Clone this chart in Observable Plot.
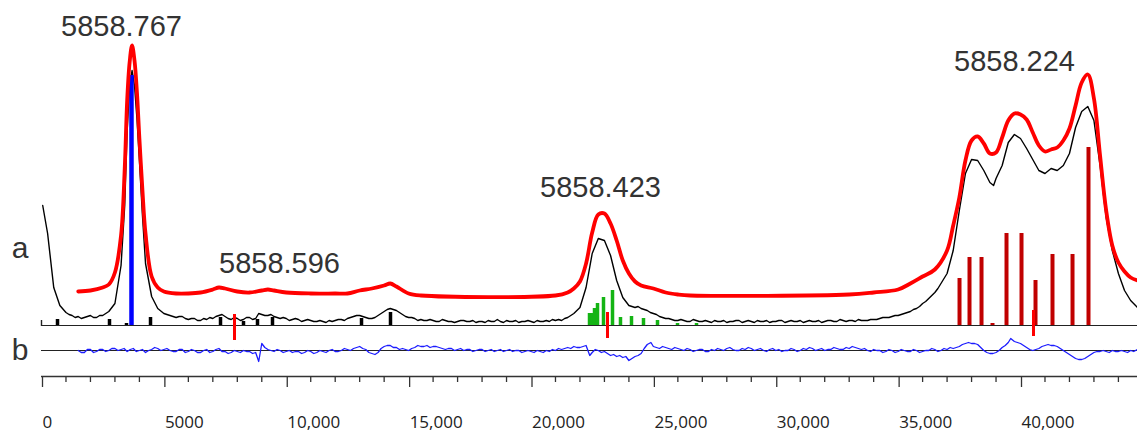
<!DOCTYPE html>
<html><head><meta charset="utf-8">
<script src="https://cdn.jsdelivr.net/npm/d3@7"></script>
<script src="https://cdn.jsdelivr.net/npm/@observablehq/plot@0.6"></script>
<style>body{margin:0;background:#fff;} #chart svg{display:block;}</style>
</head><body><div id="chart"></div>
<script>
// ---------- data ----------
// measured spectrum (black), [x, intensity]
const spectrum = [[50,120],[250,92],[500,38],[750,20],[1000,13],[1125,11],[1250,10],[1375,8],[1500,9],[1625,7],[1750,8],[1875,9],[2000,10],[2125,8],[2250,8],[2375,10],[2500,10],[2625,12],[2750,14],[3000,22],[3250,60],[3400,120],[3500,195],[3600,240],[3700,255],[3800,240],[3900,207],[4000,165],[4125,110],[4250,62],[4500,29],[4750,17],[5000,12],[5125,11],[5250,10],[5375,9],[5500,8],[5625,9],[5750,9],[5875,7],[6000,6],[6125,7],[6250,7],[6375,5],[6500,5],[6625,7],[6750,6],[6875,8],[7000,7],[7125,9],[7250,10],[7375,11],[7500,9],[7625,7],[7750,6],[7875,8],[8000,7],[8125,5],[8250,6],[8375,8],[8500,8],[8625,6],[8750,7],[8875,12],[9000,11],[9125,10],[9250,10],[9375,11],[9500,9],[9625,8],[9750,7],[9875,8],[10000,7],[10125,5],[10250,6],[10375,7],[10500,6],[10625,4],[10750,5],[10875,6],[11000,5],[11125,4],[11250,4],[11375,5],[11500,4],[11625,3],[11750,5],[11875,4],[12000,5],[12125,6],[12250,6],[12375,5],[12500,7],[12625,8],[12750,9],[12875,10],[13000,10],[13125,9],[13250,8],[13375,7],[13500,7],[13625,8],[13750,10],[13875,12],[14000,14],[14125,16],[14250,17],[14375,16],[14500,15],[14625,13],[14750,11],[14875,9],[15000,8],[15125,8],[15250,7],[15375,5],[15500,6],[15625,5],[15750,5],[15875,6],[16000,5],[16125,4],[16250,4],[16375,6],[16500,5],[16625,4],[16750,4],[16875,3],[17000,4],[17125,5],[17250,5],[17375,4],[17500,4],[17625,5],[17750,3],[17875,4],[18000,4],[18125,3],[18250,5],[18375,4],[18500,4],[18625,6],[18750,4],[18875,3],[19000,5],[19125,4],[19250,4],[19375,5],[19500,3],[19625,4],[19750,4],[19875,5],[20000,4],[20125,3],[20250,5],[20375,4],[20500,4],[20625,5],[20750,4],[20875,6],[21000,5],[21125,6],[21250,5],[21375,7],[21500,8],[21750,12],[22000,18],[22250,38],[22500,72],[22750,87],[23000,85],[23250,70],[23500,45],[23750,28],[24000,20],[24125,19],[24250,18],[24375,19],[24500,17],[24625,16],[24750,15],[24875,13],[25000,12],[25125,11],[25250,9],[25375,8],[25500,7],[25625,7],[25750,6],[25875,5],[26000,5],[26125,6],[26250,5],[26375,4],[26500,4],[26625,6],[26750,5],[26875,4],[27000,4],[27125,5],[27250,4],[27375,3],[27500,5],[27625,4],[27750,4],[27875,5],[28000,3],[28125,4],[28250,4],[28375,5],[28500,5],[28625,3],[28750,4],[28875,5],[29000,4],[29125,3],[29250,5],[29375,4],[29500,4],[29625,5],[29750,3],[29875,4],[30000,4],[30125,5],[30250,5],[30375,3],[30500,4],[30625,5],[30750,4],[30875,4],[31000,5],[31125,3],[31250,4],[31375,5],[31500,4],[31625,4],[31750,5],[31875,3],[32000,4],[32125,5],[32250,5],[32375,4],[32500,4],[32625,6],[32750,5],[32875,4],[33000,5],[33125,5],[33250,4],[33375,6],[33500,5],[33625,5],[33750,5],[33875,6],[34000,6],[34125,6],[34250,7],[34375,8],[34500,8],[34625,8],[34750,9],[34875,10],[35000,10],[35125,11],[35250,12],[35375,13],[35500,14],[35625,16],[35750,17],[35875,19],[36000,22],[36125,24],[36250,27],[36375,30],[36500,33],[36625,37],[36750,42],[37000,52],[37250,75],[37500,115],[37750,152],[38000,166],[38250,165],[38500,155],[38750,143],[38900,140],[39000,147],[39250,160],[39500,183],[39750,191],[40000,187],[40250,177],[40500,166],[40750,155],[41000,152],[41250,157],[41500,155],[41750,160],[42000,172],[42250,198],[42500,214],[42750,219],[43000,205],[43250,160],[43500,108],[43750,75],[44000,52],[44250,35],[44500,25],[44780,18]];

// fitted spectrum (red), drawn with a vertical offset
const fit = [[1500,7],[2000,8],[2500,11],[2750,14],[3000,26],[3250,63],[3400,130],[3500,198],[3600,236],[3700,253],[3800,238],[3900,206],[4000,160],[4125,108],[4250,65],[4500,22],[4750,11],[5000,7],[5500,5],[6000,5],[6500,6],[7000,9],[7250,11],[7500,10],[8000,7],[8500,6],[9000,8],[9250,9],[9500,8],[10000,6],[11000,5],[12000,5],[12500,5],[13000,8],[13500,10],[14000,13],[14250,15],[14500,12],[15000,5],[15500,3],[21000,3],[21500,6],[21750,10],[22000,17],[22250,35],[22500,66],[22750,84],[23000,85],[23250,75],[23500,58],[23750,38],[24000,25],[24250,17],[24500,13],[25000,10],[25500,6],[26000,4],[26500,3],[33000,4],[34000,6],[35000,9],[35500,15],[36000,22],[36500,29],[37000,48],[37250,73],[37500,101],[37750,138],[38000,158],[38250,162],[38500,155],[38750,145],[39000,146],[39250,161],[39500,178],[39750,185],[40000,184],[40250,179],[40500,166],[40750,153],[41000,147],[41250,149],[41500,151],[41750,158],[42000,170],[42250,193],[42500,216],[42750,224],[43000,200],[43250,143],[43500,88],[43750,53],[44000,36],[44250,27],[44500,21],[44780,18]];
const fitOffset = 27;

// residual (blue), panel b
const residual = [[1500,0],[1625,-2],[1750,-2],[1875,1],[2000,1],[2125,-2],[2250,-1],[2375,1],[2500,1],[2625,-1],[2750,0],[2875,2],[3000,2],[3125,0],[3250,1],[3375,2],[3500,-1],[3625,1],[3750,2],[3875,-1],[4000,0],[4125,1],[4250,-2],[4375,0],[4500,1],[4625,3],[4750,2],[4875,0],[5000,1],[5125,2],[5250,0],[5375,-1],[5500,-1],[5625,1],[5750,1],[5875,-2],[6000,-1],[6125,1],[6250,0],[6375,-2],[6500,-2],[6625,0],[6750,1],[6875,-2],[7000,-1],[7125,1],[7250,2],[7375,-1],[7500,-1],[7625,-3],[7750,-2],[7875,0],[8000,-1],[8125,-2],[8250,0],[8375,-1],[8500,-1],[8625,-3],[8750,-2],[8875,-11],[9000,7],[9125,3],[9250,1],[9375,0],[9500,-1],[9625,1],[9750,0],[9875,-2],[10000,-1],[10125,0],[10250,-2],[10375,-1],[10500,-1],[10625,-3],[10750,-2],[10875,0],[11000,-1],[11125,-3],[11250,-2],[11375,0],[11500,-1],[11625,-2],[11750,0],[11875,1],[12000,-1],[12125,-1],[12250,0],[12375,2],[12500,1],[12625,0],[12750,2],[12875,3],[13000,4],[13125,2],[13250,1],[13375,-2],[13500,-3],[13625,-4],[13750,-2],[13875,2],[14000,4],[14125,5],[14250,5],[14375,3],[14500,3],[14625,1],[14750,2],[14875,1],[15000,0],[15125,2],[15250,3],[15375,5],[15500,4],[15625,4],[15750,5],[15875,3],[16000,4],[16125,4],[16250,3],[16375,2],[16500,1],[16625,2],[16750,2],[16875,0],[17000,1],[17125,2],[17250,0],[17375,1],[17500,1],[17625,-1],[17750,0],[17875,1],[18000,1],[18125,-1],[18250,0],[18375,1],[18500,-1],[18625,0],[18750,1],[18875,-1],[19000,0],[19125,1],[19250,-1],[19375,0],[19500,0],[19625,-2],[19750,-1],[19875,0],[20000,-1],[20125,-2],[20250,0],[20375,-1],[20500,-2],[20625,0],[20750,-1],[20875,1],[21000,0],[21125,2],[21250,1],[21375,2],[21500,3],[21625,2],[21750,4],[21875,3],[22000,3],[22125,4],[22250,5],[22400,-5],[22500,-2],[22625,1],[22750,0],[22875,-2],[23000,-1],[23125,-3],[23250,-5],[23375,-4],[23500,-6],[23625,-5],[23750,-7],[23875,-6],[24000,-10],[24125,-8],[24250,-6],[24375,-5],[24500,-3],[24625,2],[24750,6],[24900,8],[25000,4],[25125,3],[25250,2],[25375,4],[25500,3],[25625,2],[25750,1],[25875,3],[26000,2],[26125,1],[26250,0],[26375,2],[26500,1],[26625,-1],[26750,0],[26875,1],[27000,1],[27125,-1],[27250,-1],[27375,1],[27500,0],[27625,2],[27750,1],[27875,0],[28000,2],[28125,3],[28250,1],[28375,0],[28500,0],[28625,2],[28750,1],[28875,3],[29000,2],[29125,0],[29250,1],[29375,2],[29500,0],[29625,-1],[29750,1],[29875,2],[30000,0],[30125,1],[30250,-1],[30375,0],[30500,0],[30625,2],[30750,1],[30875,-1],[31000,0],[31125,2],[31250,1],[31375,3],[31500,2],[31625,0],[31750,1],[31875,2],[32000,0],[32125,1],[32250,1],[32375,3],[32500,2],[32625,1],[32750,1],[32875,3],[33000,2],[33125,4],[33250,3],[33375,2],[33500,1],[33625,2],[33750,0],[33875,-1],[34000,1],[34125,0],[34250,0],[34375,-2],[34500,-1],[34625,1],[34750,0],[34875,-2],[35000,-1],[35125,1],[35250,0],[35375,-1],[35500,-1],[35625,1],[35750,0],[35875,-2],[36000,-1],[36125,0],[36250,0],[36375,2],[36500,1],[36625,-1],[36750,0],[36875,2],[37000,1],[37125,3],[37250,2],[37375,3],[37500,4],[37625,6],[37750,7],[37875,8],[38000,7],[38125,7],[38250,6],[38375,3],[38500,0],[38625,-2],[38750,-3],[38875,-3],[39000,-2],[39125,0],[39250,3],[39375,5],[39500,8],[39600,12],[39750,9],[39875,8],[40000,7],[40125,5],[40250,3],[40375,1],[40500,0],[40625,1],[40750,2],[40875,4],[41000,5],[41125,6],[41250,5],[41375,5],[41500,4],[41625,2],[41750,0],[41875,-2],[42000,-4],[42125,-6],[42250,-8],[42375,-9],[42500,-9],[42625,-8],[42750,-6],[42875,-4],[43000,-2],[43125,-1],[43250,-1],[43375,0],[43500,-1],[43625,-2],[43750,0],[43875,-1],[44000,-1],[44125,0],[44250,-1],[44375,-2],[44500,0],[44625,-1],[44780,1]];
const residualOffset = -25;

// stick spectra
const blueStickX = [3677];
const blueStickH = [250];
const redStickX = [37508, 37916, 38407, 38856, 39428, 40041, 40613, 41307, 42125, 42778];
const redStickH = [47, 68, 68, 2, 92, 92, 45, 71, 71, 178];
const greenStickX = [22390, 22513, 22595, 22717, 22962, 23330, 23656, 24106, 24596, 25168, 25986, 26762];
const greenStickH = [12, 12, 17, 22, 28, 35, 8, 9, 7, 5, 2, 2];
const blackStickX = [654, 2778, 3473, 4454, 7314, 8253, 8825, 9438, 13075, 14259];
const blackStickH = [6, 6, 2, 8, 8, 4, 6, 8, 7, 13];
// band-centre markers (bright red)
const markerX = [7886, 23126, 40531];
const markerLo = [-15, -13, -11];
const markerHi = [11, 13, 15];

// peak labels
const peakLabels = ["5858.767", "5858.596", "5858.423", "5858.224"];
const peakLabelX = [3269, 9724, 22840, 39755];
const peakLabelY = [299, 62, 138, 264];

// panel letters
const panelLetters = ["a", "b"];
const panelLetterY = [77, -25];

// axis
const majorTicks = [0, 5000, 10000, 15000, 20000, 25000, 30000, 35000, 40000];
const majorLabels = ["0", "5000", "10,000", "15,000", "20,000", "25,000", "30,000", "35,000", "40,000"];
const minorTicks = [1000,2000,3000,4000,6000,7000,8000,9000,11000,12000,13000,14000,16000,17000,18000,19000,21000,22000,23000,24000,26000,27000,28000,29000,31000,32000,33000,34000,36000,37000,38000,39000,41000,42000,43000,44000];

// ---------- tables ----------
const zip = (xs, ys) => xs.map((x, i) => ({x, h: ys[i]}));
const blueSticks = zip(blueStickX, blueStickH);
const redSticks = zip(redStickX, redStickH);
const greenSticks = zip(greenStickX, greenStickH);
const blackSticks = zip(blackStickX, blackStickH);
const markers = markerX.map((x, i) => ({x, lo: markerLo[i], hi: markerHi[i]}));
const labels = peakLabels.map((t, i) => ({t, x: peakLabelX[i], y: peakLabelY[i]}));
const letters = panelLetters.map((t, i) => ({t, y: panelLetterY[i]}));

const chart = Plot.plot({
  width: 1137, height: 432,
  marginLeft: 41, marginRight: 0, marginTop: 0, marginBottom: 56,
  x: {domain: [0, 44780], axis: null, label: null},
  y: {domain: [-51, 325], axis: null, label: null},
  style: {fontFamily: "'Open Sans', sans-serif", background: "#fff", overflow: "visible"},
  marks: [
    Plot.ruleY([0], {stroke: "#222", strokeWidth: 1.2}),
    Plot.ruleY([residualOffset], {stroke: "#222", strokeWidth: 1.2}),
    Plot.ruleX([0], {y1: -1, y2: 5, stroke: "#222", strokeWidth: 1.4}),
    Plot.ruleY([-51], {stroke: "#333", strokeWidth: 1.4}),
    Plot.axisX(minorTicks, {anchor: "bottom", label: null, tickSize: 6, tickFormat: () => "", stroke: "#333", strokeWidth: 1.3}),
    Plot.axisX(majorTicks, {anchor: "bottom", label: null, tickSize: 11, tickPadding: 28, tickFormat: d => majorLabels[majorTicks.indexOf(d)], textAnchor: "start", dx: 1, fontSize: 17, fill: "#222", stroke: "#333", strokeWidth: 1.3}),
    Plot.ruleX(greenSticks, {x: "x", y1: 0, y2: "h", stroke: "#14b414", strokeWidth: 3.5}),
    Plot.ruleX(blackSticks, {x: "x", y1: 0, y2: "h", stroke: "#000", strokeWidth: 3.5}),
    Plot.ruleX(redSticks, {x: "x", y1: 0, y2: "h", stroke: "#c00000", strokeWidth: 4}),
    Plot.line(spectrum, {x: d => d[0], y: d => d[1], stroke: "#000", strokeWidth: 1.4}),
    Plot.ruleX(blueSticks, {x: "x", y1: 0, y2: "h", stroke: "#0000ff", strokeWidth: 4.5}),
    Plot.line(fit, {x: d => d[0], y: d => d[1] + fitOffset, stroke: "#ff0000", strokeWidth: 3.8, curve: "catmull-rom"}),
    Plot.ruleX(markers, {x: "x", y1: "lo", y2: "hi", stroke: "#ff0000", strokeWidth: 3}),
    Plot.line(residual, {x: d => d[0], y: d => d[1] + residualOffset, stroke: "#1c1cff", strokeWidth: 1.3}),
    Plot.text(labels, {x: "x", y: "y", text: "t", fontFamily: "'Liberation Sans', Arial, sans-serif", fontSize: 29, fill: "#333", textAnchor: "middle", lineAnchor: "middle"}),
    Plot.text(letters, {y: "y", text: "t", frameAnchor: "left", dx: -21.5, fontFamily: "'Liberation Sans', Arial, sans-serif", fontSize: 30, fill: "#333", textAnchor: "middle", lineAnchor: "middle"})
  ]
});
document.getElementById("chart").appendChild(chart);
</script>
</body></html>
